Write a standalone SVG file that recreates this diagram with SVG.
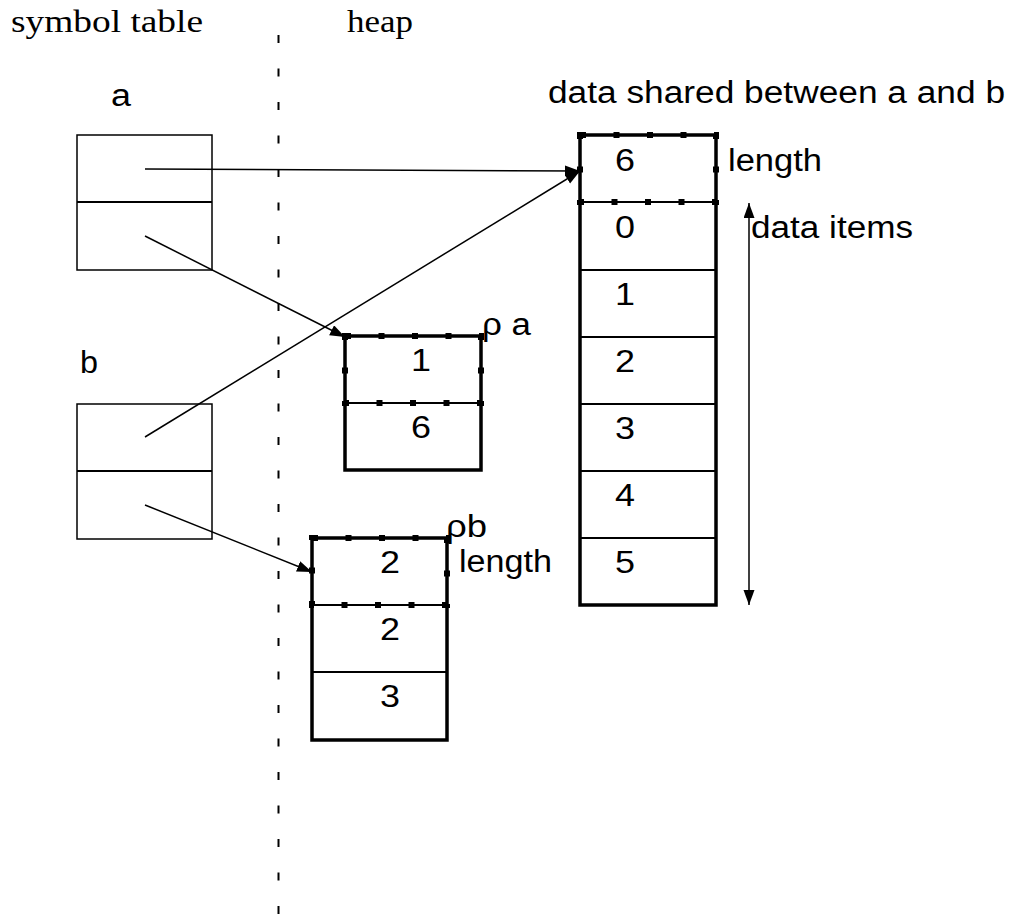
<svg xmlns="http://www.w3.org/2000/svg" width="1014" height="916" viewBox="0 0 1014 916">
<style>
.t{font-family:"Liberation Sans",Arial,sans-serif;font-size:31px;fill:#000}
.s{font-family:"Liberation Serif","Times New Roman",serif;font-size:32px;fill:#000}
.thin{fill:#fff;stroke:#000;stroke-width:1.5}
.thick{fill:#fff;stroke:#000;stroke-width:3.5}
.div{stroke:#000;stroke-width:1.8}
.dots{fill:none;stroke:#000;stroke-width:6;stroke-dasharray:6 27.5}
.conn{stroke:#000;stroke-width:1.5;fill:none}
</style>
<defs>
<marker id="ah" markerUnits="userSpaceOnUse" markerWidth="16" markerHeight="12" refX="15" refY="5.5" orient="auto-start-reverse">
<path d="M0,0 L15,5.5 L0,11 z" fill="#000"/>
</marker>
</defs>
<rect width="1014" height="916" fill="#fff"/>
<line x1="278.5" y1="35" x2="278.5" y2="916" stroke="#000" stroke-width="2" stroke-dasharray="8 25.5"/>
<g id="headers">
<text class="s" x="11" y="32" textLength="192" lengthAdjust="spacingAndGlyphs">symbol table</text>
<text class="s" x="347" y="32" textLength="66" lengthAdjust="spacingAndGlyphs">heap</text>
<text class="t" x="548" y="103" textLength="457" lengthAdjust="spacingAndGlyphs">data shared between a and b</text>
</g>
<g id="symbol-a">
<text class="t" x="111" y="106" textLength="20" lengthAdjust="spacingAndGlyphs">a</text>
<rect class="thin" x="77" y="135" width="135" height="135"/>
<line class="div" x1="77" y1="202" x2="212" y2="202" stroke-width="1.5"/>
</g>
<g id="symbol-b">
<text class="t" x="80" y="373" textLength="18" lengthAdjust="spacingAndGlyphs">b</text>
<rect class="thin" x="77" y="404" width="135" height="135"/>
<line class="div" x1="77" y1="471" x2="212" y2="471" stroke-width="1.5"/>
</g>
<g id="data">
<rect class="thick" x="580" y="135" width="136" height="470"/>
<line class="div" x1="580" y1="202" x2="716" y2="202"/>
<line class="div" x1="580" y1="270" x2="716" y2="270"/>
<line class="div" x1="580" y1="337" x2="716" y2="337"/>
<line class="div" x1="580" y1="404" x2="716" y2="404"/>
<line class="div" x1="580" y1="471" x2="716" y2="471"/>
<line class="div" x1="580" y1="538" x2="716" y2="538"/>
<rect class="dots" x="580" y="135" width="136" height="67"/>
<text class="t" x="625" y="171" text-anchor="middle" textLength="20" lengthAdjust="spacingAndGlyphs">6</text>
<text class="t" x="625" y="238" text-anchor="middle" textLength="20" lengthAdjust="spacingAndGlyphs">0</text>
<text class="t" x="625" y="305" text-anchor="middle" textLength="20" lengthAdjust="spacingAndGlyphs">1</text>
<text class="t" x="625" y="372" text-anchor="middle" textLength="20" lengthAdjust="spacingAndGlyphs">2</text>
<text class="t" x="625" y="439" text-anchor="middle" textLength="20" lengthAdjust="spacingAndGlyphs">3</text>
<text class="t" x="625" y="506" text-anchor="middle" textLength="20" lengthAdjust="spacingAndGlyphs">4</text>
<text class="t" x="625" y="573" text-anchor="middle" textLength="20" lengthAdjust="spacingAndGlyphs">5</text>
<text class="t" x="728" y="171" textLength="94" lengthAdjust="spacingAndGlyphs">length</text>
<text class="t" x="751" y="238" textLength="162" lengthAdjust="spacingAndGlyphs">data items</text>
</g>
<g id="heap-a">
<rect class="thick" x="345" y="336" width="136" height="134"/>
<line class="div" x1="345" y1="403" x2="481" y2="403"/>
<rect class="dots" x="345" y="336" width="136" height="67"/>
<text class="t" x="421" y="371" text-anchor="middle" textLength="20" lengthAdjust="spacingAndGlyphs">1</text>
<text class="t" x="421" y="438" text-anchor="middle" textLength="20" lengthAdjust="spacingAndGlyphs">6</text>
<text class="t" x="482" y="335" textLength="49" lengthAdjust="spacingAndGlyphs">ρ a</text>
</g>
<g id="heap-b">
<rect class="thick" x="312" y="538" width="135" height="202"/>
<line class="div" x1="312" y1="605" x2="447" y2="605"/>
<line class="div" x1="312" y1="672" x2="447" y2="672"/>
<rect class="dots" x="312" y="538" width="135" height="67"/>
<text class="t" x="390" y="573" text-anchor="middle" textLength="20" lengthAdjust="spacingAndGlyphs">2</text>
<text class="t" x="390" y="640" text-anchor="middle" textLength="20" lengthAdjust="spacingAndGlyphs">2</text>
<text class="t" x="390" y="707" text-anchor="middle" textLength="20" lengthAdjust="spacingAndGlyphs">3</text>
<text class="t" x="446" y="537" textLength="41" lengthAdjust="spacingAndGlyphs">ρb</text>
<text class="t" x="459" y="572" textLength="93" lengthAdjust="spacingAndGlyphs">length</text>
</g>
<g id="connectors">
<line class="conn" x1="145" y1="169" x2="580" y2="171" marker-end="url(#ah)"/>
<line class="conn" x1="145" y1="437" x2="580" y2="171" marker-end="url(#ah)"/>
<line class="conn" x1="145" y1="236" x2="345" y2="337" marker-end="url(#ah)"/>
<line class="conn" x1="145" y1="505" x2="312" y2="572" marker-end="url(#ah)"/>
<line class="conn" x1="749" y1="203" x2="749" y2="605" marker-start="url(#ah)" marker-end="url(#ah)"/>
</g>
</svg>
